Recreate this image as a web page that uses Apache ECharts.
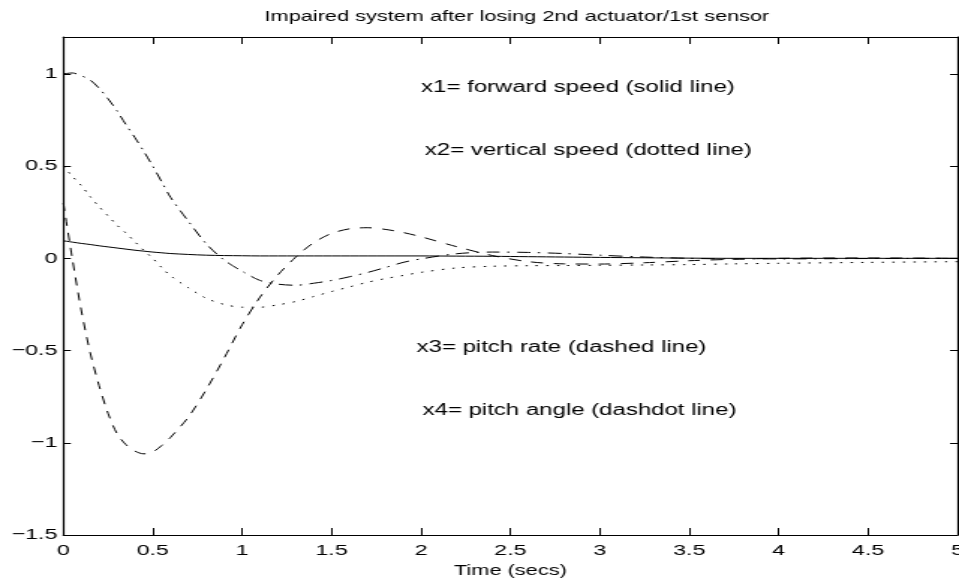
<!DOCTYPE html>
<html>
<head>
<meta charset="utf-8">
<script src="https://cdn.jsdelivr.net/npm/echarts@6/dist/echarts.min.js"></script>
<style>
html,body{margin:0;padding:0;background:#fff;overflow:hidden;}
#c{width:640px;height:580px;transform:scaleX(1.4984);transform-origin:0 0;}
</style>
</head>
<body>
<div id="c"></div>
<script>
// Time samples (secs)
var times = [0,0.05,0.1,0.15,0.2,0.25,0.3,0.35,0.4,0.45,0.5,0.55,0.6,0.7,0.8,0.9,1.0,1.1,1.2,1.3,1.4,1.5,1.6,1.7,1.8,1.9,2.0,2.2,2.4,2.6,2.8,3.0,3.25,3.5,3.75,4.0,4.5,5.0];
// x1 forward speed (solid)
var x1 = [0.095,0.088,0.081,0.075,0.068,0.062,0.056,0.05,0.044,0.039,0.034,0.03,0.026,0.021,0.017,0.015,0.014,0.013,0.013,0.013,0.013,0.013,0.013,0.013,0.013,0.013,0.013,0.012,0.011,0.009,0.007,0.005,0.003,0.001,0,0,0,0];
// x2 vertical speed (dotted)
var x2 = [0.5,0.445,0.395,0.335,0.28,0.23,0.18,0.137,0.09,0.043,0.0,-0.05,-0.095,-0.16,-0.217,-0.25,-0.265,-0.265,-0.252,-0.234,-0.207,-0.18,-0.155,-0.13,-0.11,-0.093,-0.076,-0.052,-0.043,-0.04,-0.039,-0.038,-0.036,-0.034,-0.03,-0.027,-0.022,-0.018];
// x3 pitch rate (dashed)
var x3 = [0.30,0.0,-0.28,-0.51,-0.69,-0.84,-0.95,-1.01,-1.045,-1.06,-1.05,-1.015,-0.97,-0.86,-0.71,-0.54,-0.36,-0.21,-0.09,0.007,0.085,0.135,0.16,0.166,0.157,0.14,0.117,0.063,0.015,-0.018,-0.03,-0.031,-0.024,-0.013,-0.005,0,0.002,0];
// x4 pitch angle (dashdot)
var x4 = [1.0,1.005,0.99,0.967,0.922,0.865,0.80,0.725,0.655,0.58,0.50,0.415,0.33,0.20,0.078,-0.01,-0.07,-0.12,-0.14,-0.146,-0.135,-0.12,-0.1,-0.077,-0.05,-0.022,-0.003,0.025,0.034,0.032,0.026,0.017,0.007,0.0,-0.003,-0.003,-0.001,0];

var titleText = 'Impaired system after losing 2nd actuator/1st sensor';
var xName = 'Time (secs)';
var notes = ['x1= forward speed (solid line)','x2= vertical speed (dotted line)','x3= pitch rate (dashed line)','x4= pitch angle (dashdot line)'];

function pairs(v){ return times.map(function(t,i){ return [t, v[i]]; }); }
var FONT = '"Liberation Sans", Arial, Helvetica, sans-serif';

var chart = echarts.init(document.getElementById('c'), null, {renderer:'canvas'});
function ylab(v){
  if (Math.abs(v*2 - Math.round(v*2)) > 1e-9) return '';
  return String(v).replace('-', '\u2212');
}
var axisCommon = {
  axisLine:{show:true, onZero:false, lineStyle:{color:'#000', width:1.2}},
  splitLine:{show:false}
};
function line(v, type){
  return {type:'line', data:pairs(v), showSymbol:false, smooth:0.3, animation:false,
    lineStyle:{color:'#000', width:1, type:type}};
}
chart.setOption({
  animation:false,
  backgroundColor:'#fff',
  title:{text:titleText, left:340, top:4, textAlign:'center',
    textStyle:{fontFamily:FONT, fontSize:14.5, fontWeight:'normal', color:'#000'}},
  grid:{left:42.25, right:1, top:37, bottom:45, containLabel:false, outerBoundsMode:'none'},
  xAxis:[
    Object.assign({type:'value', position:'bottom', min:0, max:5, interval:0.5,
      name:xName, nameLocation:'middle', nameGap:26,
      nameTextStyle:{fontFamily:FONT, fontSize:14.5, color:'#000'},
      axisLabel:{show:true, margin:8, fontFamily:FONT, fontSize:15.5, color:'#000', hideOverlap:false, formatter:function(v){return String(v);}}}, axisCommon,
      {axisTick:{show:true, inside:true, length:7, lineStyle:{color:'#000', width:1}}}),
    Object.assign({type:'value', position:'top', min:0, max:5, interval:0.5,
      axisLabel:{show:false}}, axisCommon,
      {axisTick:{show:true, inside:true, length:7, lineStyle:{color:'#000', width:1}}})
  ],
  yAxis:[
    Object.assign({type:'value', position:'left', min:-1.5, max:1.2, interval:0.5,
      axisLabel:{show:true, margin:4, fontFamily:FONT, fontSize:15.5, color:'#000', formatter:ylab}}, axisCommon,
      {axisTick:{show:true, inside:true, length:5, lineStyle:{color:'#000', width:1}}}),
    Object.assign({type:'value', position:'right', min:-1.5, max:1.2, interval:0.5,
      axisLabel:{show:false}}, axisCommon,
      {axisTick:{show:true, inside:true, length:5, lineStyle:{color:'#000', width:1}}})
  ],
  graphic:[
    {type:'text', left:281, top:80, style:{text:notes[0], font:'16px '+FONT, fill:'#000'}},
    {type:'text', left:283.5, top:143, style:{text:notes[1], font:'16px '+FONT, fill:'#000'}},
    {type:'text', left:278, top:339.5, style:{text:notes[2], font:'16px '+FONT, fill:'#000'}},
    {type:'text', left:282, top:403, style:{text:notes[3], font:'16px '+FONT, fill:'#000'}}
  ],
  series:[
    line(x1, 'solid'),
    line(x2, [1.5,5.5]),
    line(x3, [8,7]),
    line(x4, [9,5,1.5,5])
  ]
});
</script>
</body>
</html>
